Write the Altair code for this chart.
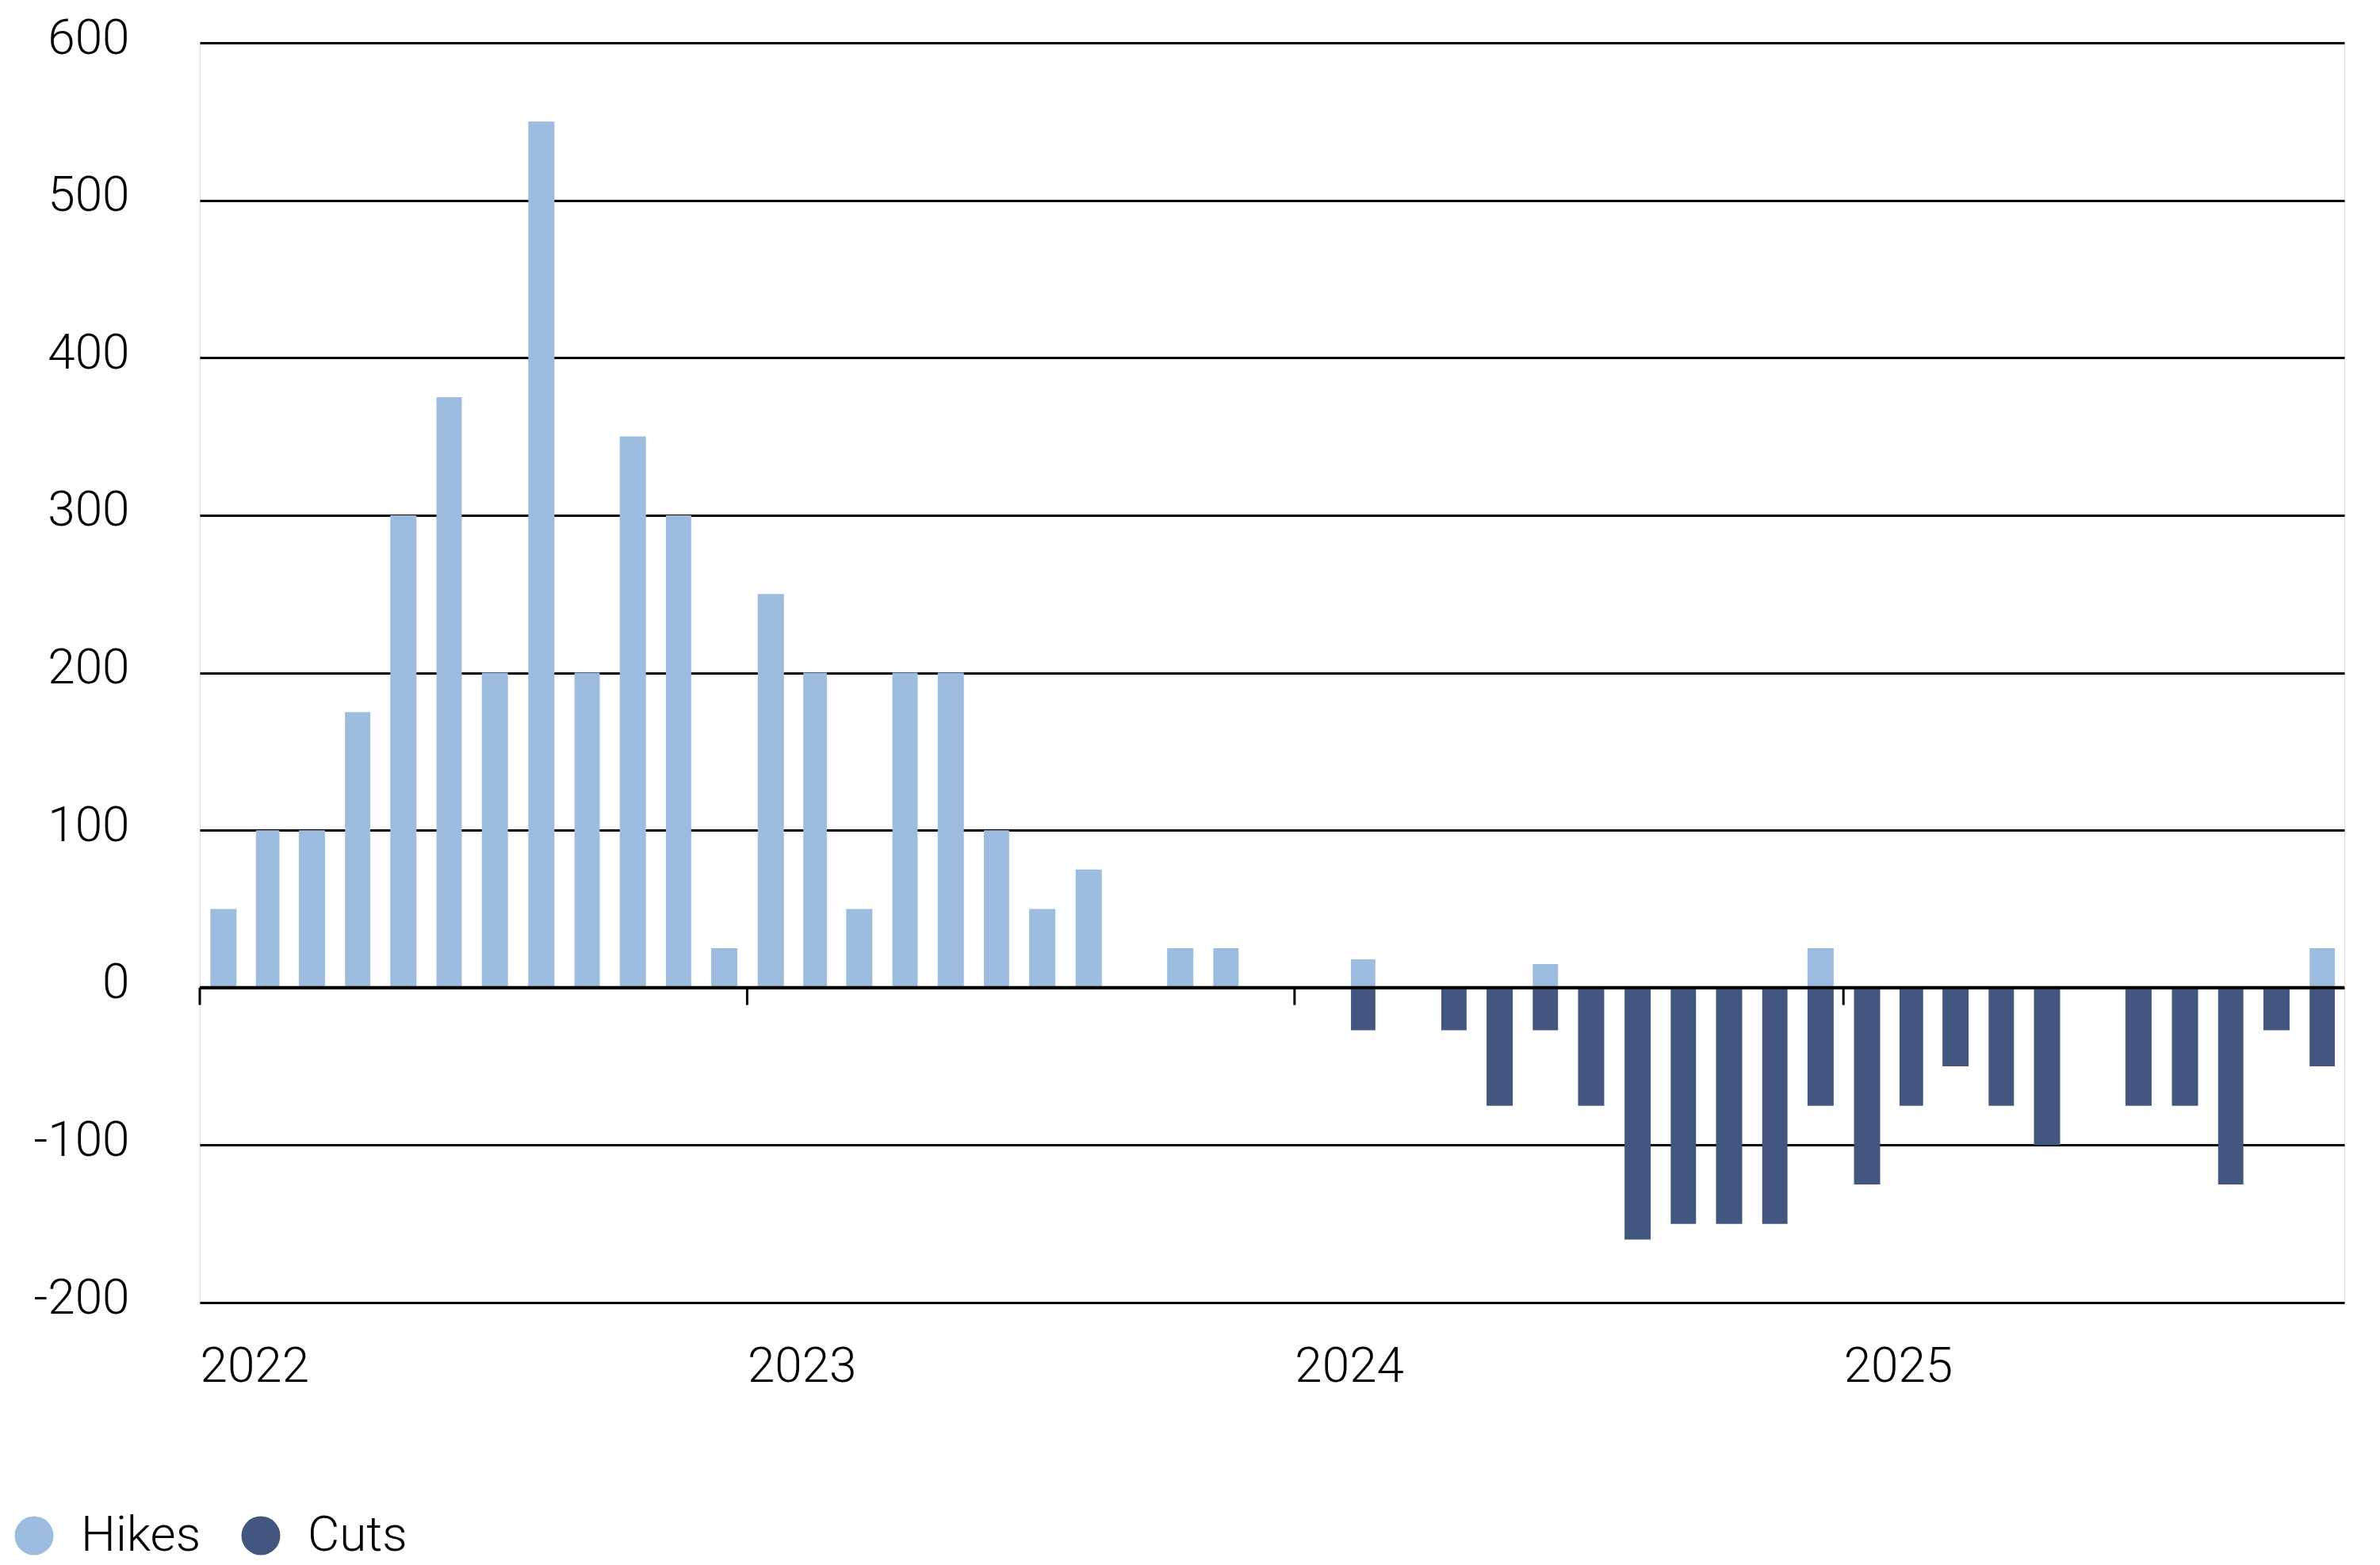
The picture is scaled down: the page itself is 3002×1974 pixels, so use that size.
import altair as alt
import pandas as pd

# Month starts, Jan 2022 .. Nov 2025
months_2022 = ["2022-01-01", "2022-02-01", "2022-03-01", "2022-04-01", "2022-05-01", "2022-06-01",
               "2022-07-01", "2022-08-01", "2022-09-01", "2022-10-01", "2022-11-01", "2022-12-01"]
months_2023 = ["2023-01-01", "2023-02-01", "2023-03-01", "2023-04-01", "2023-05-01", "2023-06-01",
               "2023-07-01", "2023-08-01", "2023-09-01", "2023-10-01", "2023-11-01", "2023-12-01"]
months_2024 = ["2024-01-01", "2024-02-01", "2024-03-01", "2024-04-01", "2024-05-01", "2024-06-01",
               "2024-07-01", "2024-08-01", "2024-09-01", "2024-10-01", "2024-11-01", "2024-12-01"]
months_2025 = ["2025-01-01", "2025-02-01", "2025-03-01", "2025-04-01", "2025-05-01", "2025-06-01",
               "2025-07-01", "2025-08-01", "2025-09-01", "2025-10-01", "2025-11-01"]
months = months_2022 + months_2023 + months_2024 + months_2025

hikes = [50, 100, 100, 175, 300, 375, 200, 550, 200, 350, 300, 25,
         250, 200, 50, 200, 200, 100, 50, 75, 0, 25, 25, 0,
         0, 18, 0, 0, 0, 15, 0, 0, 0, 0, 0, 25,
         0, 0, 0, 0, 0, 0, 0, 0, 0, 0, 25]
cuts = [0, 0, 0, 0, 0, 0, 0, 0, 0, 0, 0, 0,
        0, 0, 0, 0, 0, 0, 0, 0, 0, 0, 0, 0,
        0, -27, 0, -27, -75, -27, -75, -160, -150, -150, -150, -75,
        -125, -75, -50, -75, -100, 0, -75, -75, -125, -27, -50]

series = ["Hikes", "Cuts"]
colors = ["#9cbce0", "#42567f"]
year_ticks = ["2022-01-01", "2023-01-01", "2024-01-01", "2025-01-01"]
tick_years = [2022, 2023, 2024, 2025]
y_ticks = [-200, -100, 0, 100, 200, 300, 400, 500, 600]

rows = []
for d, h, c in zip(months, hikes, cuts):
    if h != 0:
        rows.append({"date": d, "series": "Hikes", "value": h})
    if c != 0:
        rows.append({"date": d, "series": "Cuts", "value": c})
df = pd.DataFrame(rows)

FONT = "Roboto"
FS = 62

x_scale = alt.Scale(type="utc",
                    domain=[alt.DateTime(year=2022, month=1, date=1, utc=True),
                            alt.DateTime(year=2025, month=12, date=1, utc=True)])
y_scale = alt.Scale(domain=[-200, 600], nice=False, zero=False)

bars = alt.Chart(df).mark_bar(width=alt.RelativeBandSize(0.58)).encode(
    x=alt.X("utcyearmonth(date):T", scale=x_scale,
            axis=alt.Axis(values=[alt.DateTime(year=y, month=1, date=1, utc=True) for y in tick_years],
                          labelExpr="utcFormat(datum.value, '%Y')",
                          labelAlign="left", labelBaseline="top", labelPadding=50,
                          domain=False, ticks=False, grid=False, title=None,
                          labelFont=FONT, labelFontSize=FS, labelColor="black",
                          labelFontWeight=300, labelOverlap=False, labelBound=False, labelFlush=False)),
    y=alt.Y("value:Q", scale=y_scale, stack=None,
            axis=alt.Axis(values=y_ticks, grid=True, gridColor="black", gridWidth=3,
                          domain=False, ticks=False, labelPadding=89, title=None,
                          labelExpr="'' + datum.value", labelOffset=-6,
                          labelFont=FONT, labelFontSize=FS, labelColor="black",
                          labelFontWeight=300)),
    color=alt.Color("series:N", scale=alt.Scale(domain=series, range=colors),
                    legend=alt.Legend(title=None, orient="none", direction="horizontal",
                                      legendX=-240, legendY=1852,
                                      symbolType="circle", symbolSize=2400,
                                      symbolStrokeWidth=0, symbolOpacity=1,
                                      labelFont=FONT, labelFontSize=FS, labelColor="black",
                                      labelFontWeight=300, labelOffset=28,
                                      columnPadding=44, padding=0)),
)

zero_df = pd.DataFrame({"y": [0]})
zero = alt.Chart(zero_df).mark_rule(color="black", strokeWidth=4).encode(y=alt.Y("y:Q", scale=y_scale))

tick_df = pd.DataFrame({"date": year_ticks})
ticks = alt.Chart(tick_df).mark_rule(color="black", strokeWidth=3).encode(
    x=alt.X("date:T", scale=x_scale),
    y=alt.datum(0),
    y2=alt.datum(-11),
)

chart = alt.layer(bars, zero, ticks).properties(
    width=2705, height=1589,
    autosize=alt.AutoSizeParams(type="none"),
    padding={"left": 244, "top": 46, "right": 30, "bottom": 328},
).configure_view(stroke=None).configure(background="white")

chart.save("out.html", embed_options={"renderer": "svg", "actions": False})
